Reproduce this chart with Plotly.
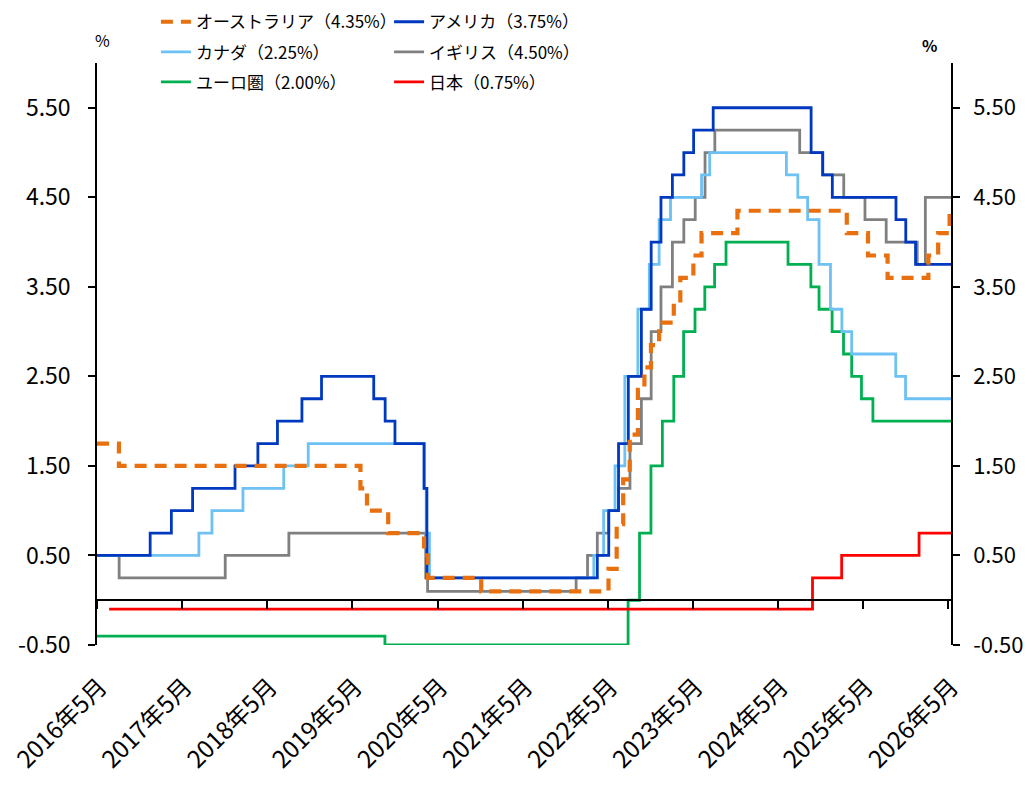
import plotly.graph_objects as go

# policy rates: change dates and the new level (%)
AUS_DATES = ["2016-05-01", "2016-08-03", "2019-06-05", "2019-07-03", "2019-10-02",
             "2020-03-04", "2020-03-20", "2020-11-04", "2022-05-04", "2022-06-08",
             "2022-07-06", "2022-08-03", "2022-09-07", "2022-10-05", "2022-11-02",
             "2022-12-07", "2023-02-08", "2023-03-08", "2023-05-03", "2023-06-07",
             "2023-11-08", "2025-02-19", "2025-05-21", "2025-08-13", "2026-02-04",
             "2026-03-18", "2026-05-06"]
AUS = [1.75, 1.50, 1.25, 1.00, 0.75, 0.50, 0.25, 0.10, 0.35, 0.85, 1.35, 1.85, 2.35,
       2.60, 2.85, 3.10, 3.35, 3.60, 3.85, 4.10, 4.35, 4.10, 3.85, 3.60, 3.85, 4.10, 4.35]

US_DATES = ["2016-05-01", "2016-12-15", "2017-03-16", "2017-06-15", "2017-12-14",
            "2018-03-22", "2018-06-14", "2018-09-27", "2018-12-20", "2019-08-01",
            "2019-09-19", "2019-10-31", "2020-03-04", "2020-03-16", "2022-03-17",
            "2022-05-05", "2022-06-16", "2022-07-28", "2022-09-22", "2022-11-03",
            "2022-12-15", "2023-02-02", "2023-03-23", "2023-05-04", "2023-07-27",
            "2024-09-19", "2024-11-08", "2024-12-19", "2025-09-18", "2025-10-30",
            "2025-12-11"]
US = [0.50, 0.75, 1.00, 1.25, 1.50, 1.75, 2.00, 2.25, 2.50, 2.25, 2.00, 1.75, 1.25,
      0.25, 0.50, 1.00, 1.75, 2.50, 3.25, 4.00, 4.50, 4.75, 5.00, 5.25, 5.50, 5.00,
      4.75, 4.50, 4.25, 4.00, 3.75]

CAN_DATES = ["2016-05-01", "2017-07-12", "2017-09-06", "2018-01-17", "2018-07-11",
             "2018-10-24", "2020-03-04", "2020-03-13", "2020-03-27", "2022-03-02",
             "2022-04-13", "2022-06-01", "2022-07-13", "2022-09-07", "2022-10-26",
             "2022-12-07", "2023-01-25", "2023-06-07", "2023-07-12", "2024-06-05",
             "2024-07-24", "2024-09-04", "2024-10-23", "2024-12-11", "2025-01-29",
             "2025-03-12", "2025-09-17", "2025-10-29"]
CAN = [0.50, 0.75, 1.00, 1.25, 1.50, 1.75, 1.25, 0.75, 0.25, 0.50, 1.00, 1.50, 2.50,
       3.25, 3.75, 4.25, 4.50, 4.75, 5.00, 4.75, 4.50, 4.25, 3.75, 3.25, 3.00, 2.75,
       2.50, 2.25]

UK_DATES = ["2016-05-01", "2016-08-04", "2017-11-02", "2018-08-02", "2020-03-11",
            "2020-03-19", "2021-12-16", "2022-02-03", "2022-03-17", "2022-05-05",
            "2022-06-16", "2022-08-04", "2022-09-22", "2022-11-03", "2022-12-15",
            "2023-02-02", "2023-03-23", "2023-05-11", "2023-06-22", "2023-08-03",
            "2024-08-01", "2024-11-07", "2025-02-06", "2025-05-08", "2025-08-07",
            "2025-12-18", "2026-01-22"]
UK = [0.50, 0.25, 0.50, 0.75, 0.25, 0.10, 0.25, 0.50, 0.75, 1.00, 1.25, 1.75, 2.25,
      3.00, 3.50, 4.00, 4.25, 4.50, 5.00, 5.25, 5.00, 4.75, 4.50, 4.25, 4.00, 3.75, 4.50]

EUR_DATES = ["2016-05-01", "2019-09-18", "2022-07-27", "2022-09-14", "2022-11-02",
             "2022-12-21", "2023-02-08", "2023-03-22", "2023-05-10", "2023-06-21",
             "2023-08-02", "2023-09-20", "2024-06-12", "2024-09-18", "2024-10-23",
             "2024-12-18", "2025-02-05", "2025-03-12", "2025-04-23", "2025-06-11"]
EUR = [-0.40, -0.50, 0.00, 0.75, 1.50, 2.00, 2.50, 3.00, 3.25, 3.50, 3.75, 4.00, 3.75,
       3.50, 3.25, 3.00, 2.75, 2.50, 2.25, 2.00]

JPN_DATES = ["2016-06-22", "2024-09-25", "2025-01-28", "2025-12-26"]
JPN = [-0.10, 0.25, 0.50, 0.75]

END_DATE = "2026-05-12"
TICK_DATES = [f"{y}-05-01" for y in range(2016, 2027)]
TICK_TEXT = [f"{y}年5月" for y in range(2016, 2027)]
Y_TICKS = [-0.5, 0.5, 1.5, 2.5, 3.5, 4.5, 5.5]
Y_TEXT = [f"{v:.2f}" for v in Y_TICKS]

FONT = "Noto Sans CJK JP"

# (name, dates, values, color, width, dash, legend)
SERIES = [
    ("オーストラリア（4.35%）", AUS_DATES, AUS, "#E8700F", 4.2, "12px,8px", "legend"),
    ("カナダ（2.25%）", CAN_DATES, CAN, "#6EC1F3", 2.8, "solid", "legend"),
    ("ユーロ圏（2.00%）", EUR_DATES, EUR, "#00B050", 2.8, "solid", "legend"),
    ("アメリカ（3.75%）", US_DATES, US, "#0039C0", 2.8, "solid", "legend2"),
    ("イギリス（4.50%）", UK_DATES, UK, "#808080", 2.8, "solid", "legend2"),
    ("日本（0.75%）", JPN_DATES, JPN, "#FF0000", 2.8, "solid", "legend2"),
]
DRAW_ORDER = ["日本（0.75%）", "ユーロ圏（2.00%）", "イギリス（4.50%）",
              "カナダ（2.25%）", "アメリカ（3.75%）", "オーストラリア（4.35%）"]

fig = go.Figure()
names = [s[0] for s in SERIES]
traces = {}
for name, dates, vals, color, width, dash, leg in SERIES:
    # Japan sits on the overlay axes so the zero line and right axis get drawn
    on_overlay = name.startswith("日本")
    traces[name] = go.Scatter(
        x=dates + [END_DATE],
        y=vals + [vals[-1]],
        mode="lines",
        line=dict(shape="hv", color=color, width=width, dash=dash),
        name=name,
        legend=leg,
        legendgroup=name,
        legendrank=names.index(name),
        xaxis="x2" if on_overlay else "x",
        yaxis="y2" if on_overlay else "y",
    )
for name in DRAW_ORDER:
    fig.add_trace(traces[name])

leg_common = dict(
    font=dict(family=FONT, size=17, color="black"),
    bgcolor="rgba(0,0,0,0)",
    tracegroupgap=5,
    traceorder="grouped",
    yanchor="top",
    xanchor="left",
    itemwidth=30,
)
yaxis_common = dict(
    range=[-0.5, 6.0],
    tickvals=Y_TICKS,
    ticktext=Y_TEXT,
    ticks="outside",
    ticklen=7,
    tickwidth=1.5,
    tickcolor="black",
    showline=True,
    linecolor="black",
    linewidth=1.5,
    showgrid=False,
    zeroline=False,
    automargin=False,
)

# page has an 8px body margin, so margins are shifted to land the plot at 97..951 x 63..645
fig.update_layout(
    width=1032,
    height=785,
    paper_bgcolor="white",
    plot_bgcolor="white",
    margin=dict(l=89, r=89, t=55, b=148, autoexpand=False),
    showlegend=True,
    legend=dict(x=0.069, y=1.101, **leg_common),
    legend2=dict(x=0.342, y=1.101, **leg_common),
    xaxis=dict(
        type="date",
        range=["2016-05-01", END_DATE],
        tickvals=TICK_DATES,
        ticktext=TICK_TEXT,
        tickangle=-45,
        tickfont=dict(family=FONT, size=24, color="black"),
        ticks="",
        ticklabelstandoff=22,
        ticklabelshift=3,
        ticklabeloverflow="allow",
        showline=False,
        showgrid=False,
        zeroline=False,
        automargin=False,
    ),
    xaxis2=dict(
        type="date",
        overlaying="x",
        range=["2016-05-01", END_DATE],
        anchor="free",
        position=0.5 / 6.5,
        tickvals=TICK_DATES,
        showticklabels=False,
        ticks="outside",
        ticklen=8,
        tickwidth=1.5,
        tickcolor="black",
        showline=True,
        linecolor="black",
        linewidth=1.5,
        showgrid=False,
        zeroline=False,
        automargin=False,
    ),
    yaxis=dict(
        tickfont=dict(family=FONT, size=23, color="black"),
        ticklabelstandoff=13,
        **yaxis_common,
    ),
    yaxis2=dict(
        overlaying="y",
        side="right",
        anchor="x",
        tickfont=dict(family=FONT, size=22, color="black"),
        ticklabelstandoff=9,
        **yaxis_common,
    ),
)

fig.add_annotation(text="%", xref="paper", yref="paper", x=0.007, y=1.0395,
                   xanchor="center", yanchor="middle", showarrow=False,
                   font=dict(family=FONT, size=16, color="black"))
fig.add_annotation(text="<b>%</b>", xref="paper", yref="paper", x=0.9754, y=1.031,
                   xanchor="center", yanchor="middle", showarrow=False,
                   font=dict(family=FONT, size=16, color="black"))

fig.write_html("out.html")
